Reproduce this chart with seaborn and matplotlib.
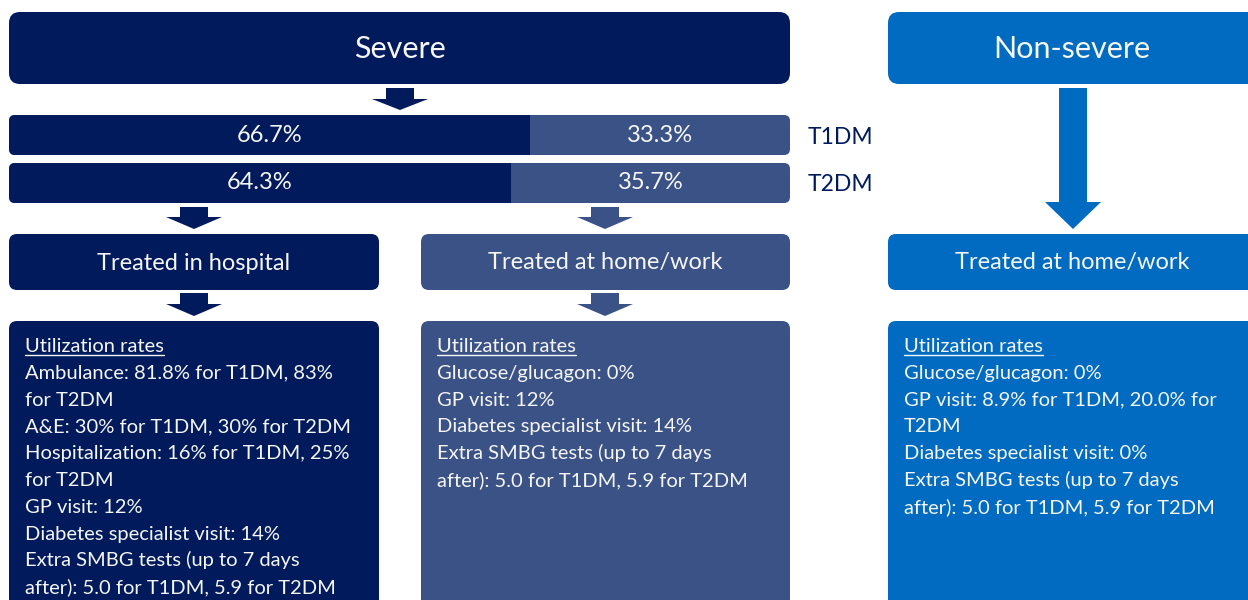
import pandas as pd
import matplotlib.pyplot as plt
import seaborn as sns
from matplotlib.patches import FancyBboxPatch, Polygon
from matplotlib.transforms import IdentityTransform

# --- Data ---
diabetes_types = ["T1DM", "T2DM"]
pct_hospital = [66.7, 64.3]
pct_home = [33.3, 35.7]

header_severe = "Severe"
header_nonsevere = "Non-severe"
setting_hospital = "Treated in hospital"
setting_home = "Treated at home/work"
util_title = "Utilization rates"

util_hospital = [
    "Ambulance: 81.8% for T1DM, 83%",
    "for T2DM",
    "A&E: 30% for T1DM, 30% for T2DM",
    "Hospitalization: 16% for T1DM, 25%",
    "for T2DM",
    "GP visit: 12%",
    "Diabetes specialist visit: 14%",
    "Extra SMBG tests (up to 7 days",
    "after): 5.0 for T1DM, 5.9 for T2DM",
]
util_home_severe = [
    "Glucose/glucagon: 0%",
    "GP visit: 12%",
    "Diabetes specialist visit: 14%",
    "Extra SMBG tests (up to 7 days",
    "after): 5.0 for T1DM, 5.9 for T2DM",
]
util_home_nonsevere = [
    "Glucose/glucagon: 0%",
    "GP visit: 8.9% for T1DM, 20.0% for",
    "T2DM",
    "Diabetes specialist visit: 0%",
    "Extra SMBG tests (up to 7 days",
    "after): 5.0 for T1DM, 5.9 for T2DM",
]

# colours
NAVY = "#001A5C"
SLATE = "#3A5285"
BLUE = "#006BC0"
WHITE = "#F6F6F6"

sns.set_theme(style="white")
plt.rcParams["font.family"] = ["Lato", "DejaVu Sans"]

W, H = 1248, 600
fig = plt.figure(figsize=(W / 100, H / 100), dpi=100)
ax = fig.add_axes([0, 0, 1, 1])
ax.set_xlim(0, W)
ax.set_ylim(H, 0)
ax.axis("off")


def box(x, y, w, h, color, r=8):
    ax.add_patch(FancyBboxPatch((x, y), w, h, boxstyle=f"round,pad=0,rounding_size={r}",
                                fc=color, ec="none"))


def block_arrow(cx, y0, y_head, y1, shaft_w, head_w, color):
    pts = [(cx - shaft_w / 2, y0), (cx + shaft_w / 2, y0), (cx + shaft_w / 2, y_head),
           (cx + head_w / 2, y_head), (cx, y1), (cx - head_w / 2, y_head),
           (cx - shaft_w / 2, y_head)]
    ax.add_patch(Polygon(pts, closed=True, fc=color, ec="none"))


def util_block(x, y, lines):
    step = 26.8
    t = ax.text(x, y, util_title, color=WHITE, fontsize=14.5, va="baseline", ha="left")
    fig.canvas.draw()
    bb = t.get_window_extent()
    ax.plot([x, x + bb.width], [y + 3, y + 3], color=WHITE, lw=1)
    for i, line in enumerate(lines):
        ax.text(x, y + step * (i + 1), line, color=WHITE, fontsize=14.5,
                va="baseline", ha="left")


# --- Header boxes ---
box(9, 12, 781, 72, NAVY, r=11)
ax.text(400, 49, header_severe, color=WHITE, fontsize=22, ha="center", va="center")
box(888, 12, 380, 72, BLUE, r=11)
ax.text(1072, 49, header_nonsevere, color=WHITE, fontsize=22, ha="center", va="center")

# --- Arrows ---
block_arrow(400, 88, 99, 110, 28, 56, NAVY)
block_arrow(194, 207, 217, 229, 28, 56, NAVY)
block_arrow(605, 207, 217, 229, 28, 56, SLATE)
block_arrow(194, 293, 304, 316, 28, 56, NAVY)
block_arrow(605, 293, 304, 316, 28, 56, SLATE)
block_arrow(1073, 88, 202, 229, 28, 56, BLUE)

# --- Setting boxes ---
box(9, 234, 370, 56, NAVY, r=8)
ax.text(194, 263, setting_hospital, color=WHITE, fontsize=17, ha="center", va="center")
box(421, 234, 369, 56, SLATE, r=8)
ax.text(605, 263, setting_home, color=WHITE, fontsize=17, ha="center", va="center")
box(888, 234, 380, 56, BLUE, r=8)
ax.text(1072, 263, setting_home, color=WHITE, fontsize=17, ha="center", va="center")

# --- Utilization boxes ---
box(9, 321, 370, 300, NAVY, r=8)
util_block(25, 352, util_hospital)
box(421, 321, 369, 300, SLATE, r=8)
util_block(437, 352, util_home_severe)
box(888, 321, 380, 300, BLUE, r=8)
util_block(904, 352, util_home_nonsevere)

# --- Stacked split bars (seaborn) ---
axb = fig.add_axes([9 / W, 1 - 203 / H, 781 / W, 88 / H])
totals = [a + b for a, b in zip(pct_hospital, pct_home)]
df = pd.DataFrame({"type": diabetes_types, "hospital": pct_hospital, "total": totals})
sns.barplot(data=df, x="total", y="type", color=SLATE, width=0.8333, orient="h",
            saturation=1, ax=axb, linewidth=0)
sns.barplot(data=df, x="hospital", y="type", color=NAVY, width=0.8333, orient="h",
            saturation=1, ax=axb, linewidth=0)
axb.set_xlim(0, 100)
axb.set_ylim(1.4167, -0.4167)
axb.set_xlabel("")
axb.set_ylabel("")
axb.set_xticks([])
for s in axb.spines.values():
    s.set_visible(False)
axb.patch.set_alpha(0)
axb.yaxis.tick_right()
axb.tick_params(axis="y", length=0, pad=13, labelsize=16.5, labelcolor=NAVY)

fig.canvas.draw()
for i, full in enumerate(axb.containers[0]):
    bb = full.get_window_extent()
    clip = FancyBboxPatch((bb.x0, bb.y0), bb.width, bb.height,
                          boxstyle="round,pad=0,rounding_size=6",
                          transform=IdentityTransform(), fc="none", ec="none")
    full.set_clip_path(clip)
    axb.containers[1][i].set_clip_path(clip)

for i, (h, o) in enumerate(zip(pct_hospital, pct_home)):
    axb.text(h / 2, i, f"{h}%", color=WHITE, fontsize=17, ha="center", va="center")
    axb.text(h + o / 2, i, f"{o}%", color=WHITE, fontsize=17, ha="center", va="center")

fig.savefig("out.png", dpi=100)
